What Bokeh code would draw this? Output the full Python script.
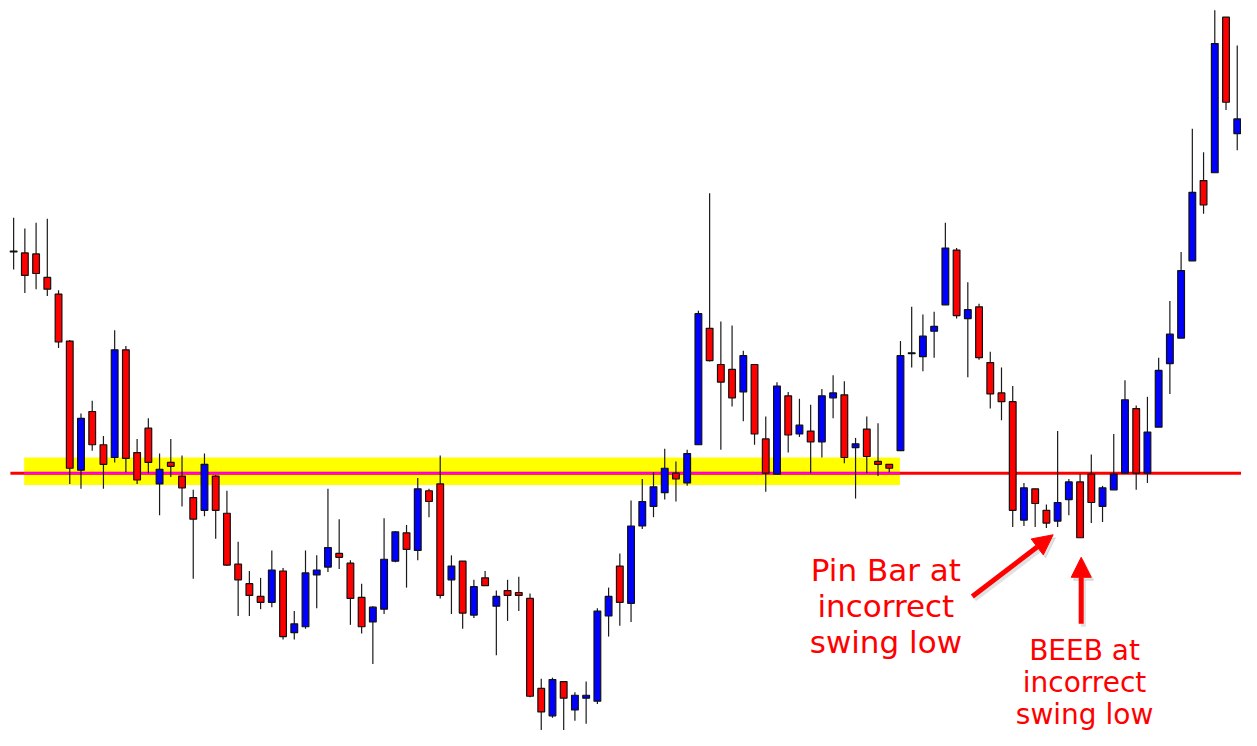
from bokeh.plotting import figure
from bokeh.models import Range1d, Arrow, NormalHead, ColumnDataSource
from bokeh.core.properties import value
from bokeh.embed import file_html
from bokeh.resources import INLINE

# ---- data (price in chart points) ----
opens = [489, 488, 487, 463, 446, 398, 266, 326, 292, 279,
         389, 284, 309, 252, 274, 260, 238, 225, 260, 222,
         170, 150, 137, 131, 163, 100, 106, 159, 167, 181,
         171, 136, 111, 124, 173, 202, 184, 245, 252, 154,
         173, 118, 156, 127, 143, 141, 135, 43, 15, 50,
         21, 33, 30, 117, 168, 130, 209, 229, 243, 263,
         253, 292, 411, 374, 369, 346, 374, 298, 262, 342,
         303, 306, 295, 340, 343, 289, 308, 275, 272, 286,
         385, 382, 408, 435, 491, 421, 433, 376, 345, 336,
         215, 247, 225, 214, 236, 254, 262, 229, 246, 263,
         329, 263, 310, 375, 401, 480, 562, 570, 729, 610]
highs = [524, 513, 519, 523, 450, 399, 324, 337, 301, 409,
         393, 298, 319, 283, 298, 281, 246, 283, 261, 245,
         193, 163, 156, 184, 166, 122, 184, 179, 247, 216,
         174, 150, 127, 217, 204, 210, 258, 247, 281, 179,
         173, 154, 163, 143, 154, 157, 140, 53, 54, 50,
         39, 50, 125, 146, 181, 235, 257, 264, 288, 275,
         287, 429, 549, 418, 414, 388, 374, 321, 356, 346,
         339, 333, 349, 363, 357, 299, 321, 314, 272, 398,
         433, 425, 428, 519, 493, 458, 436, 387, 371, 352,
         253, 247, 231, 306, 257, 262, 282, 250, 303, 358,
         332, 341, 381, 439, 489, 615, 591, 736, 729, 700]
lows = [471, 447, 451, 444, 391, 252, 247, 286, 247, 274,
        264, 252, 263, 220, 259, 229, 155, 219, 196, 168,
        117, 117, 124, 126, 93, 93, 104, 125, 162, 165,
        108, 99, 68, 119, 172, 146, 174, 218, 135, 119,
        104, 115, 148, 77, 112, 122, 34, 0, 13, 0,
        10, 7, 27, 96, 107, 111, 206, 218, 236, 234,
        250, 292, 377, 287, 331, 316, 292, 244, 262, 284,
        300, 263, 279, 319, 273, 237, 263, 260, 264, 286,
        371, 367, 381, 435, 421, 361, 379, 329, 317, 208,
        209, 208, 207, 208, 220, 197, 212, 213, 246, 263,
        246, 253, 310, 344, 401, 480, 528, 570, 634, 593]
closes = [490, 465, 467, 451, 397, 268, 319, 292, 272, 389,
          278, 256, 274, 267, 270, 248, 216, 272, 225, 169,
          154, 138, 131, 164, 96, 109, 161, 164, 187, 177,
          135, 106, 126, 175, 203, 185, 247, 234, 138, 168,
          120, 147, 148, 137, 138, 138, 35, 19, 52, 33,
          36, 36, 122, 137, 131, 209, 234, 249, 268, 257,
          283, 426, 378, 356, 340, 383, 303, 263, 352, 302,
          312, 295, 342, 345, 279, 293, 280, 272, 268, 383,
          386, 403, 413, 493, 424, 430, 381, 344, 336, 225,
          248, 232, 212, 233, 254, 197, 233, 248, 262, 338,
          263, 305, 368, 405, 470, 550, 537, 702, 642, 625]

level = 263                    # horizontal support/resistance level
zone_low, zone_high = 251, 279  # highlighted zone
zone_first, zone_last = 1, 79   # candles covered by the zone
pin_idx, beeb_idx = 93, 95

pin_lines = ["Pin Bar at", "incorrect", "swing low"]
beeb_lines = ["BEEB at", "incorrect", "swing low"]

# ---- derived ----
n = len(opens)
idx = list(range(n))
up = [c >= o for o, c in zip(opens, closes)]
src = ColumnDataSource(dict(
    x=idx, o=opens, h=highs, l=lows, c=closes,
    top=[max(o, c) for o, c in zip(opens, closes)],
    bot=[min(o, c) for o, c in zip(opens, closes)],
    col=["#0000FF" if u else "#FF0000" for u in up],
))

p = figure(width=1241, height=730, output_backend="svg", toolbar_location=None,
           x_axis_location=None, y_axis_location=None,
           x_range=Range1d(-1.17, 109.38), y_range=Range1d(0, 746),
           min_border=0, background_fill_color="white", border_fill_color="white")
p.outline_line_color = None
p.xgrid.visible = False
p.ygrid.visible = False

# zone and level
p.quad(left=[zone_first - 0.06], right=[zone_last - 0.05], bottom=[zone_low], top=[zone_high],
       fill_color="#FFFF00", line_color=None)
p.segment(x0=[-0.29], x1=[n + 1], y0=[level], y1=[level],
          line_color="#FF0000", line_width=3)
p.segment(x0=[zone_first - 0.06], x1=[zone_last - 0.05], y0=[level], y1=[level],
          line_color="#FF00FF", line_width=2)

# candles
p.segment(x0="x", x1="x", y0="l", y1="h", source=src, line_color="#1a1a1a", line_width=1.2)
p.vbar(x="x", width=0.6, top="top", bottom="bot", source=src,
       fill_color="col", line_color="#111111", line_width=1.2)

# annotations
font = value("DejaVu Sans")
for k, t in enumerate(pin_lines):
    p.text(x=[pin_idx - 15.3], y=[164 - 37 * k], text=[t], text_font=font,
           text_font_size="31px", text_color="#FF0000",
           text_align="center", text_baseline="alphabetic")
for k, t in enumerate(beeb_lines):
    p.text(x=[beeb_idx + 0.4], y=[82 - 33 * k], text=[t], text_font=font,
           text_font_size="28px", text_color="#FF0000",
           text_align="center", text_baseline="alphabetic")

def arrow(xs, ys, xe, ye, color, alpha):
    p.add_layout(Arrow(end=NormalHead(size=20, fill_color=color, line_color=color,
                                      fill_alpha=alpha, line_alpha=alpha),
                       x_start=xs, y_start=ys, x_end=xe, y_end=ye,
                       line_color=color, line_width=5, line_alpha=alpha))

# soft shadows then arrows
arrow(pin_idx - 7.6 + 0.2, 134, pin_idx - 0.4 + 0.2, 197, "#888888", 0.25)
arrow(beeb_idx + 0.3, 106, beeb_idx + 0.3, 174, "#888888", 0.25)
arrow(pin_idx - 7.6, 137, pin_idx - 0.4, 200, "#FF0000", 1.0)
arrow(beeb_idx + 0.1, 109, beeb_idx + 0.1, 177, "#FF0000", 1.0)

open("out.html", "w").write(file_html(p, INLINE))
